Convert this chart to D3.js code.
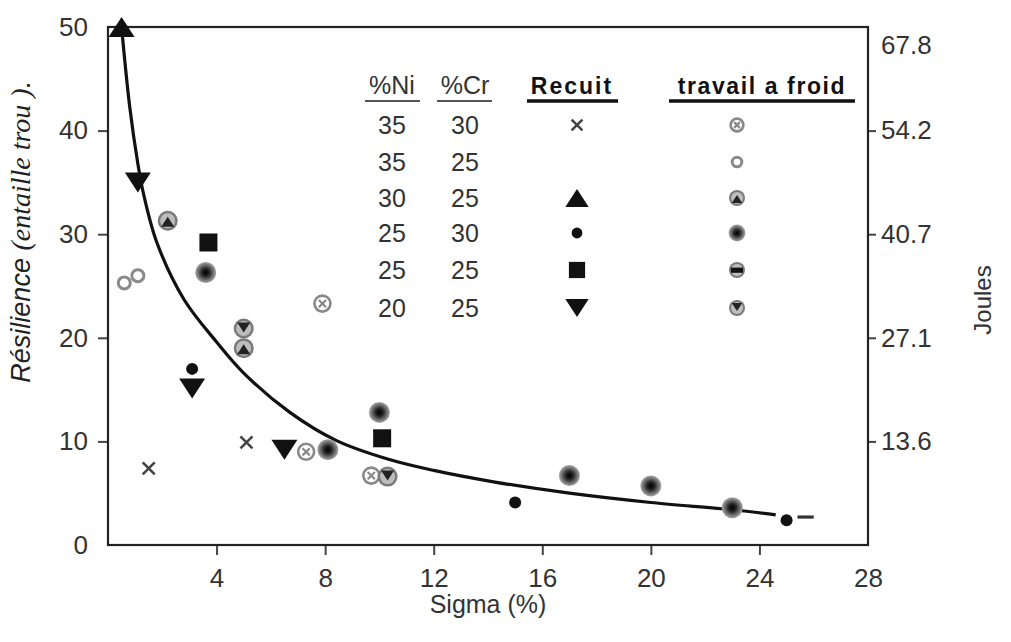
<!DOCTYPE html>
<html>
<head>
<meta charset="utf-8">
<script src="https://cdn.jsdelivr.net/npm/d3@7"></script>
<style>
  body { margin: 0; background: #fff; }
  svg { display: block; font-family: "Liberation Sans", Arial, sans-serif; }
</style>
</head>
<body>
<svg id="chart" width="1011" height="642"></svg>
<script>
// axes
const xTicks = [4, 8, 12, 16, 20, 24, 28];
const yTicks = [0, 10, 20, 30, 40, 50];
const jouleTicks = [13.56, 27.12, 40.68, 54.24, 67.8];

// legend table
const niVals = [35, 35, 30, 25, 25, 20];
const crVals = [30, 25, 25, 30, 25, 25];
const alloys = ['35-30', '35-25', '30-25', '25-30', '25-25', '20-25'];
const recuitSym = ['x', null, 'tri', 'dot', 'sq', 'tridown'];
const froidSym = ['c_x', 'c_open', 'c_tri', 'c_dot', 'c_sq', 'c_tridown'];

// Recuit (annealed) points: sigma %, resilience
const recuitPts = [
  { s: 0.5, r: 50.0, alloy: '30-25' },
  { s: 1.1, r: 35.0, alloy: '20-25' },
  { s: 3.7, r: 29.2, alloy: '25-25' },
  { s: 3.1, r: 17.0, alloy: '25-30' },
  { s: 3.1, r: 15.1, alloy: '20-25' },
  { s: 1.5, r: 7.4, alloy: '35-30' },
  { s: 5.1, r: 9.9, alloy: '35-30' },
  { s: 6.5, r: 9.2, alloy: '20-25' },
  { s: 10.1, r: 10.3, alloy: '25-25' },
  { s: 15.0, r: 4.1, alloy: '25-30' },
  { s: 25.0, r: 2.4, alloy: '25-30' }
];

// travail a froid (cold worked) points
const froidPts = [
  { s: 2.2, r: 31.3, alloy: '30-25' },
  { s: 3.6, r: 26.3, alloy: '25-30' },
  { s: 0.6, r: 25.3, alloy: '35-25' },
  { s: 1.1, r: 26.0, alloy: '35-25' },
  { s: 7.9, r: 23.3, alloy: '35-30' },
  { s: 5.0, r: 20.9, alloy: '20-25' },
  { s: 5.0, r: 19.0, alloy: '30-25' },
  { s: 7.3, r: 9.0, alloy: '35-30' },
  { s: 8.1, r: 9.2, alloy: '25-30' },
  { s: 10.0, r: 12.8, alloy: '25-30' },
  { s: 9.7, r: 6.7, alloy: '35-30' },
  { s: 10.3, r: 6.6, alloy: '20-25' },
  { s: 17.0, r: 6.7, alloy: '25-30' },
  { s: 20.0, r: 5.7, alloy: '25-30' },
  { s: 23.0, r: 3.6, alloy: '25-30' }
];

// fitted curve
const curveS = [0.5, 0.8, 1.1, 1.3, 1.8, 2.8, 4.0, 5.0, 6.7, 8.4, 10.3, 12, 14.2, 17, 20, 23, 24.6];
const curveR = [50, 42.3, 36.8, 34, 29.2, 23.7, 19.6, 16.6, 12.8, 10.1, 8.3, 7.2, 6.1, 5.0, 4.1, 3.4, 2.9];
const dashS = [25.4, 26.0];
const dashR = [2.7, 2.7];

const svg = d3.select('#chart');
const x = d3.scaleLinear().domain([0, 28]).range([108, 868]);
const y = d3.scaleLinear().domain([0, 50]).range([545, 27]);
const yJ = d3.scaleLinear().domain([0, 67.8]).range([545, 27]);

const TXT = '#333';

// radial gradient for the blurry cold-work dots
const defs = svg.append('defs');
const grad = defs.append('radialGradient').attr('id', 'gdot');
grad.append('stop').attr('offset', '0%').attr('stop-color', '#000');
grad.append('stop').attr('offset', '35%').attr('stop-color', '#222');
grad.append('stop').attr('offset', '70%').attr('stop-color', '#6a6a6a');
grad.append('stop').attr('offset', '100%').attr('stop-color', '#a8a8a8');

// axes
const gx = svg.append('g').attr('transform', 'translate(0,545)')
  .call(d3.axisBottom(x).tickValues(xTicks).tickSize(10).tickPadding(14));
const gy = svg.append('g').attr('transform', 'translate(108,0)')
  .call(d3.axisLeft(y).tickValues(yTicks).tickSize(10).tickPadding(10));
const gj = svg.append('g').attr('transform', 'translate(868,0)')
  .call(d3.axisRight(yJ).tickValues(jouleTicks).tickFormat(d3.format('.1f')).tickSize(8).tickPadding(5));

[gx, gy, gj].forEach(g => {
  g.select('.domain').remove();
  g.selectAll('line').attr('stroke', '#444').attr('stroke-width', 2);
  g.selectAll('text').attr('fill', TXT).style('font-size', '26px')
    .style('font-family', '"Liberation Sans", Arial, sans-serif');
});
gx.selectAll('.tick').filter(d => d === 28).select('line').remove();
gy.selectAll('.tick').filter(d => d === 0 || d === 50).select('line').remove();
gj.selectAll('.tick').filter(d => d === 67.8).select('line').remove();
gj.selectAll('.tick').filter(d => d === 67.8).select('text').attr('dy', '1.0em');

svg.append('rect')
  .attr('x', x(0)).attr('y', y(50))
  .attr('width', x(28) - x(0)).attr('height', y(0) - y(50))
  .attr('fill', 'none').attr('stroke', '#222').attr('stroke-width', 2.2);

// axis titles
svg.append('text').attr('x', 488).attr('y', 613).attr('text-anchor', 'middle')
  .attr('fill', TXT).style('font-size', '25px').text('Sigma (%)');

svg.append('text').attr('transform', 'translate(991,300) rotate(-90)')
  .attr('text-anchor', 'middle').attr('fill', TXT).style('font-size', '24px').text('Joules');

const yl = svg.append('text').attr('transform', 'translate(30,232) rotate(-90)')
  .attr('text-anchor', 'middle').attr('fill', '#222').style('font-style', 'italic');
yl.append('tspan').style('font-size', '27px').text('Résilience ');
yl.append('tspan').style('font-size', '28px')
  .style('font-family', '"Liberation Serif", "Times New Roman", serif').text('(entaille trou ).');

// curve
const line = d3.line().x(d => x(d[0])).y(d => y(d[1])).curve(d3.curveCatmullRom.alpha(0.5));
svg.append('path').datum(d3.zip(curveS, curveR)).attr('d', line)
  .attr('fill', 'none').attr('stroke', '#111').attr('stroke-width', 3.2);
svg.append('path').datum(d3.zip(dashS, dashR)).attr('d', line)
  .attr('fill', 'none').attr('stroke', '#333').attr('stroke-width', 3.2);

// flattened triangle, as in the scan
function triPath(k, down) {
  const w = 13 * k, h = 10 * k, s = down ? -1 : 1;
  return `M${-w},${s * h}L${w},${s * h}L0,${-s * h}Z`;
}

// marker drawing
function drawMarker(g, type, k) {
  if (type === 'x') {
    const h = 6 * k;
    g.append('path').attr('d', `M${-h},${-h}L${h},${h}M${h},${-h}L${-h},${h}`)
      .attr('stroke', '#444').attr('stroke-width', 2.6);
  } else if (type === 'tri') {
    g.append('path').attr('d', triPath(k, false)).attr('fill', '#111');
  } else if (type === 'tridown') {
    g.append('path').attr('d', triPath(k, true)).attr('fill', '#111');
  } else if (type === 'dot') {
    g.append('circle').attr('r', 6 * k).attr('fill', '#111');
  } else if (type === 'sq') {
    const a = 9 * k;
    g.append('rect').attr('x', -a).attr('y', -a).attr('width', 2 * a).attr('height', 2 * a).attr('fill', '#111');
  } else if (type === 'c_x') {
    const r = 8 * k, h = 3.6 * k;
    g.append('circle').attr('r', r).attr('fill', '#fff').attr('stroke', '#888').attr('stroke-width', 2.6);
    g.append('path').attr('d', `M${-h},${-h}L${h},${h}M${h},${-h}L${-h},${h}`)
      .attr('stroke', '#888').attr('stroke-width', 2.2);
  } else if (type === 'c_open') {
    g.append('circle').attr('r', 6 * k).attr('fill', '#fff').attr('stroke', '#8a8a8a').attr('stroke-width', 3);
  } else if (type === 'c_dot') {
    g.append('circle').attr('r', 10.5 * k).attr('fill', 'url(#gdot)');
  } else {
    g.append('circle').attr('r', 10 * k).attr('fill', '#7a7a7a');
    g.append('circle').attr('r', 7.5 * k).attr('fill', '#bdbdbd');
    if (type === 'c_tri') {
      g.append('path').attr('d', triPath(0.5 * k, false)).attr('transform', 'translate(0,1)').attr('fill', '#222');
    } else if (type === 'c_tridown') {
      g.append('path').attr('d', triPath(0.5 * k, true)).attr('transform', 'translate(0,-1)').attr('fill', '#222');
    } else if (type === 'c_sq') {
      g.append('rect').attr('x', -7.5 * k).attr('y', -3 * k).attr('width', 15 * k).attr('height', 6.5 * k).attr('fill', '#111');
    }
  }
}

const recuitOf = a => recuitSym[alloys.indexOf(a)];
const froidOf = a => froidSym[alloys.indexOf(a)];

const pts = svg.append('g');
froidPts.forEach(d => {
  drawMarker(pts.append('g').attr('transform', `translate(${x(d.s)},${y(d.r)})`), froidOf(d.alloy), 1);
});
recuitPts.forEach(d => {
  drawMarker(pts.append('g').attr('transform', `translate(${x(d.s)},${y(d.r)})`), recuitOf(d.alloy), 1);
});

// legend table
const lg = svg.append('g');
const cols = { ni: 392, cr: 465, rec: 577, fr: 737 };
const rowY = [125, 162, 198, 233, 270, 308];

lg.append('text').attr('x', cols.ni).attr('y', 94).attr('text-anchor', 'middle')
  .attr('fill', TXT).style('font-size', '25px').text('%Ni');
lg.append('text').attr('x', cols.cr).attr('y', 94).attr('text-anchor', 'middle')
  .attr('fill', TXT).style('font-size', '25px').text('%Cr');
lg.append('text').attr('x', 572).attr('y', 94).attr('text-anchor', 'middle')
  .attr('fill', '#111').style('font-size', '23px').style('font-weight', 'bold')
  .style('letter-spacing', '2px').text('Recuit');
lg.append('text').attr('x', 762).attr('y', 94).attr('text-anchor', 'middle')
  .attr('fill', '#111').style('font-size', '23px').style('font-weight', 'bold')
  .style('letter-spacing', '1.6px').text('travail a froid');

[[365, 420], [437, 492]].forEach(([a, b]) => {
  lg.append('line').attr('x1', a).attr('x2', b).attr('y1', 101).attr('y2', 101)
    .attr('stroke', '#555').attr('stroke-width', 2);
});
[[527, 618], [669, 855]].forEach(([a, b]) => {
  lg.append('line').attr('x1', a).attr('x2', b).attr('y1', 101).attr('y2', 101)
    .attr('stroke', '#111').attr('stroke-width', 3.5);
});

rowY.forEach((ry, i) => {
  lg.append('text').attr('x', cols.ni).attr('y', ry + 9).attr('text-anchor', 'middle')
    .attr('fill', TXT).style('font-size', '25px').text(niVals[i]);
  lg.append('text').attr('x', cols.cr).attr('y', ry + 9).attr('text-anchor', 'middle')
    .attr('fill', TXT).style('font-size', '25px').text(crVals[i]);
  if (recuitSym[i]) drawMarker(lg.append('g').attr('transform', `translate(${cols.rec},${ry})`), recuitSym[i], 0.9);
  drawMarker(lg.append('g').attr('transform', `translate(${cols.fr},${ry})`), froidSym[i], 0.8);
});
</script>
</body>
</html>
